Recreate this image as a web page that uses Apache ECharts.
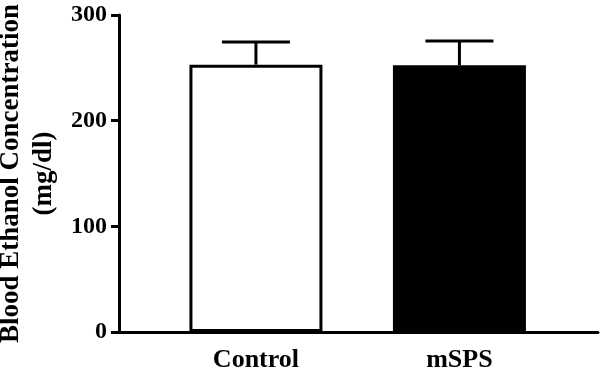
<!DOCTYPE html>
<html>
<head>
<meta charset="utf-8">
<script src="https://cdn.jsdelivr.net/npm/echarts@6.0.0/dist/echarts.min.js"></script>
<style>
html, body { margin: 0; padding: 0; background: #fff; }
#chart { width: 600px; height: 372px; }
</style>
</head>
<body>
<div id="chart"></div>
<script>
// ---- data ----
var categories = ['Control', 'mSPS'];
var meanValues = [253, 252.5];
var errorValues = [21.5, 23];
var barColors = ['#ffffff', '#000000'];
var yTicks = [0, 100, 200, 300];
var yTitle = 'Blood Ethanol Concentration\n(mg/dl)';

// positions of categories along the (value) x axis
var catPos = categories.map(function (c, i) { return i + 1; });

var FONT = 'Liberation Serif, "Times New Roman", serif';

var barData = categories.map(function (c, i) {
  return {
    value: [catPos[i], meanValues[i]],
    itemStyle: { color: barColors[i], borderColor: '#000', borderWidth: 3 }
  };
});
var errData = categories.map(function (c, i) {
  return [catPos[i], meanValues[i], errorValues[i]];
});

var chart = echarts.init(document.getElementById('chart'), null, { renderer: 'canvas' });
chart.setOption({
  animation: false,
  backgroundColor: '#fff',
  grid: { left: 119, right: 2, top: 15, bottom: 40, containLabel: false, outerBoundsMode: 'none' },
  xAxis: {
    type: 'value',
    min: 0.327,
    max: 2.681,
    splitLine: { show: false },
    axisTick: { show: false },
    axisLine: { show: true, onZero: false, lineStyle: { color: '#000', width: 3 } },
    axisLabel: {
      show: true,
      customValues: catPos,
      formatter: function (v) {
        var idx = catPos.indexOf(Math.round(v));
        return idx >= 0 ? categories[idx] : '';
      },
      margin: 15,
      color: '#000',
      fontFamily: FONT,
      fontWeight: 'bold',
      fontSize: 26
    }
  },
  yAxis: {
    type: 'value',
    min: yTicks[0],
    max: yTicks[yTicks.length - 1],
    interval: yTicks[1] - yTicks[0],
    splitLine: { show: false },
    axisLine: { show: true, onZero: false, lineStyle: { color: '#000', width: 3 } },
    axisTick: { show: true, inside: false, length: 8, lineStyle: { color: '#000', width: 3 } },
    axisLabel: {
      margin: 12,
      color: '#000',
      fontFamily: FONT,
      fontWeight: 'bold',
      fontSize: 24
    },
    name: yTitle,
    nameLocation: 'middle',
    nameRotate: 90,
    nameGap: 55,
    nameTextStyle: {
      color: '#000',
      fontFamily: FONT,
      fontWeight: 'bold',
      fontSize: 27,
      lineHeight: 33,
      align: 'center'
    }
  },
  series: [
    {
      type: 'bar',
      barWidth: 133,
      data: barData,
      z: 2
    },
    {
      type: 'custom',
      z: 3,
      data: errData,
      renderItem: function (params, api) {
        var x = api.value(0);
        var m = api.value(1);
        var e = api.value(2);
        var top = api.coord([x, m + e]);
        var base = api.coord([x, m]);
        var half = 34;
        var style = { stroke: '#000', lineWidth: 3, fill: null };
        return {
          type: 'group',
          children: [
            { type: 'line', shape: { x1: top[0], y1: top[1], x2: base[0], y2: base[1] }, style: style },
            { type: 'line', shape: { x1: top[0] - half, y1: top[1], x2: top[0] + half, y2: top[1] }, style: style }
          ]
        };
      }
    }
  ]
});
</script>
</body>
</html>
